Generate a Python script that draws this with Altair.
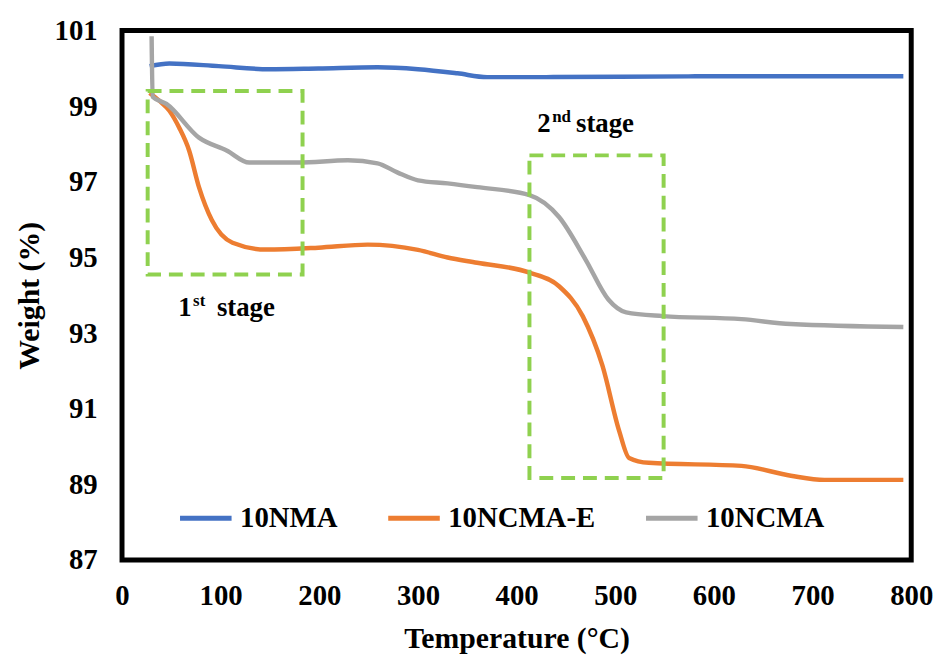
import altair as alt
import pandas as pd

# ---- data ----
temp_nma = [28, 48, 98, 149, 199, 259, 300, 340, 370, 430, 581, 792]
w_nma = [100.06, 100.13, 100.06, 99.98, 100.0, 100.03, 99.98, 99.87, 99.77, 99.77, 99.79, 99.79]

temp_e = [28, 38, 48, 58, 68, 78, 91, 112, 146, 199, 249, 300, 330, 360, 413, 443,
          467, 487, 504, 514, 534, 628, 678, 712, 792]
w_e = [99.35, 99.14, 98.88, 98.43, 97.83, 96.86, 95.99, 95.39, 95.21, 95.26, 95.34, 95.2,
       95.0, 94.86, 94.6, 94.24, 93.45, 92.14, 90.41, 89.7, 89.57, 89.49, 89.23, 89.12, 89.12]

temp_c = [30, 31, 45, 78, 106, 129, 179, 229, 259, 279, 300, 330, 360, 413, 443, 470,
          493, 511, 548, 628, 678, 792]
w_c = [100.85, 99.25, 99.06, 98.17, 97.83, 97.51, 97.51, 97.57, 97.49, 97.25, 97.04, 96.96,
       96.86, 96.65, 96.07, 94.94, 93.89, 93.55, 93.45, 93.37, 93.24, 93.16]

series_names = ["10NMA", "10NCMA-E", "10NCMA"]
series_colors = ["#4472C4", "#ED7D31", "#A5A5A5"]

# stage boxes (temperature range, weight range)
box_t1 = [26, 413]
box_t2 = [183, 549]
box_w1 = [99.40, 97.70]
box_w2 = [94.55, 89.17]

# stage labels
stage_num = ["1", "2"]
stage_sup = ["st", "nd"]
stage_t = [57, 421]
stage_w = [93.45, 98.33]

x_ticks = list(range(0, 801, 100))
y_ticks = list(range(87, 102, 2))

rows = []
for name, ts, ws in zip(series_names, [temp_nma, temp_e, temp_c], [w_nma, w_e, w_c]):
    for i, (t, w) in enumerate(zip(ts, ws)):
        rows.append({"series": name, "T": t, "W": w, "order": i})
df = pd.DataFrame(rows)

boxes = pd.DataFrame({"t1": box_t1, "t2": box_t2, "w1": box_w1, "w2": box_w2})
labels = pd.DataFrame({"num": stage_num, "sup": stage_sup, "T": stage_t, "W": stage_w,
                       "word": ["stage", "stage"]})

FONT = "Liberation Serif, DejaVu Serif, Times New Roman, Times, serif"

x_enc = alt.X("T:Q", scale=alt.Scale(domain=[0, 800], nice=False),
              axis=alt.Axis(values=x_ticks, title="Temperature (°C)", labelPadding=22,
                            titlePadding=13, labelFlush=False))
y_enc = alt.Y("W:Q", scale=alt.Scale(domain=[87, 101], nice=False, zero=False),
              axis=alt.Axis(values=y_ticks, title="Weight (%)", labelPadding=25,
                            titlePadding=10, labelFlush=False))

lines = alt.Chart(df).mark_line(strokeWidth=4.5, interpolate="monotone", clip=True).encode(
    x=x_enc,
    y=y_enc,
    order="order:Q",
    color=alt.Color("series:N",
                    scale=alt.Scale(domain=series_names, range=series_colors),
                    sort=series_names,
                    legend=alt.Legend(title=None, orient="none", legendX=56, legendY=463,
                                      direction="horizontal", symbolType="stroke",
                                      symbolSize=2704, symbolStrokeWidth=5,
                                      labelFont=FONT, labelFontWeight="bold",
                                      labelFontSize=29, labelColor="black",
                                      labelOffset=6, columnPadding=40, padding=0)),
)

rects = alt.Chart(boxes).mark_rect(fillOpacity=0, stroke="#8FD14F", strokeWidth=4,
                                   strokeDash=[14, 8]).encode(
    x="t1:Q", x2="t2:Q", y="w1:Q", y2="w2:Q")

txt_num = alt.Chart(labels).mark_text(font=FONT, fontWeight="bold", fontSize=27,
                                      align="left", baseline="alphabetic",
                                      color="black").encode(
    x="T:Q", y="W:Q", text="num:N")
txt_sup = alt.Chart(labels).mark_text(font=FONT, fontWeight="bold", fontSize=17,
                                      align="left", baseline="alphabetic", dx=15, dy=-10,
                                      color="black").encode(
    x="T:Q", y="W:Q", text="sup:N")
txt_word = alt.Chart(labels).mark_text(font=FONT, fontWeight="bold", fontSize=27,
                                       align="left", baseline="alphabetic", dx=39,
                                       color="black").encode(
    x="T:Q", y="W:Q", text="word:N")

chart = alt.layer(lines, rects, txt_num, txt_sup, txt_word).properties(
    width=796, height=534,
    padding={"left": 6, "top": 6, "right": 5, "bottom": 0},
    background="white",
).configure_view(stroke="black", strokeWidth=5).configure_axis(
    domain=False, ticks=False, grid=False,
    labelFont=FONT, labelFontWeight="bold", labelFontSize=29, labelColor="black",
    titleFont=FONT, titleFontWeight="bold", titleFontSize=30, titleColor="black",
)

chart.save("out.html", embed_options={"renderer": "svg", "actions": False})
